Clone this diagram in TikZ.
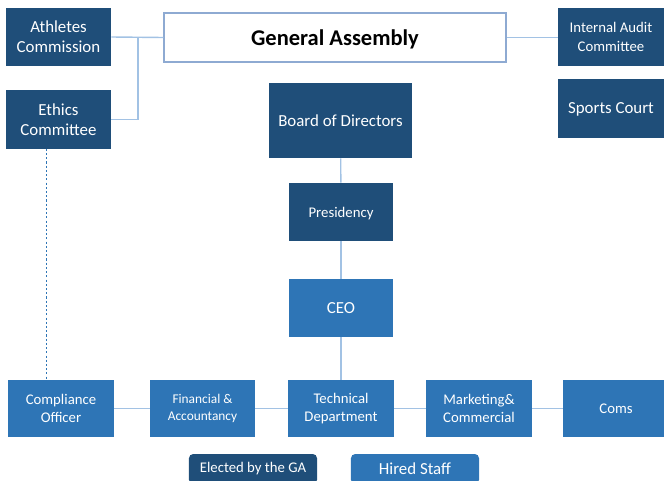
\documentclass[tikz,border=0pt]{standalone}
\usepackage{fontspec}
\setmainfont{Carlito}
\definecolor{gadark}{HTML}{1F4E79}
\definecolor{staffblue}{HTML}{2E75B6}
\definecolor{linkblue}{HTML}{A2C2E4}
\definecolor{gaframe}{HTML}{8EAAD2}
\tikzset{
    elected/.style={fill=gadark, text=white, align=center, inner sep=0pt, minimum width=2.63cm, minimum height=1.45cm},
    hired/.style={fill=staffblue, text=white, align=center, inner sep=0pt, minimum width=2.63cm, minimum height=1.43cm},
    link/.style={draw=linkblue, line width=1pt},
}

\begin{document}
\begin{tikzpicture}[x=0.025cm, y=-0.025cm]
    \clip (0,0) rectangle (664,480);

    \node[draw=gaframe, line width=0.8pt, fill=white, minimum width=8.55cm, minimum height=1.225cm, text depth=0pt, font=\fontsize{16}{18}\selectfont\bfseries] (ga) at (335,37.5) {General Assembly};
    \node[elected, font=\fontsize{12}{14.5}\selectfont] (athletes) at (58.5,37) {Athletes\\Commission};
    \node[elected, font=\fontsize{12}{14.5}\selectfont] (ethics) at (58.5,119.5) {Ethics\\Committee};
    \node[elected, font=\fontsize{10.5}{13}\selectfont] (audit) at (611,37) {Internal Audit\\Committee};
    \node[elected, text depth=0pt, font=\fontsize{12}{14.5}\selectfont] (court) at (611,108.5) {Sports Court};

    \node[elected, minimum width=3.575cm, minimum height=1.875cm, font=\fontsize{12}{14.5}\selectfont] (board) at (340.5,120.5) {Board of Directors};
    \node[elected, minimum width=2.6cm, text depth=0pt, font=\fontsize{10.5}{13}\selectfont] (presidency) at (341,212) {Presidency};
    \node[hired, minimum width=2.6cm, minimum height=1.45cm, font=\fontsize{12}{14.5}\selectfont] (ceo) at (341,308) {CEO};

    \node[hired, font=\fontsize{10.5}{13}\selectfont] (compliance) at (61,408.5) {Compliance\\Officer};
    \node[hired, font=\fontsize{9.5}{12}\selectfont] (finance) at (202.5,408.5) {Financial \&\\Accountancy};
    \node[hired, font=\fontsize{10.5}{13}\selectfont] (technical) at (341,408.5) {Technical\\Department};
    \node[hired, font=\fontsize{10.5}{13}\selectfont] (marketing) at (479,408.5) {Marketing\&\\Commercial};
    \node[hired, font=\fontsize{10.5}{13}\selectfont] (coms) at (616,408.5) {Coms};

    \node[elected, rounded corners=3pt, minimum width=3.2cm, minimum height=0.75cm, font=\fontsize{10.5}{13}\selectfont] (legendga) at (253,469) {Elected by the GA};
    \node[hired, rounded corners=3pt, minimum width=3.2cm, minimum height=0.75cm, font=\fontsize{12}{14.5}\selectfont] (legendstaff) at (415,469) {Hired Staff};

    \coordinate (tie) at (138,37);
    \coordinate (drop) at (46.5,0);

    \draw[link] (athletes.east) -- (ga.west);
    \draw[link] (ethics.east) -| (tie);
    \draw[link] (ga.east) -- (ga.east -| audit.west);
    \draw[link] (board) -- (presidency);
    \draw[link] (presidency) -- (ceo);
    \draw[link] (ceo) -- (technical);
    \draw[link] (compliance) -- (finance);
    \draw[link] (finance) -- (technical);
    \draw[link] (technical) -- (marketing);
    \draw[link] (marketing) -- (coms);
    \draw[staffblue, line width=0.8pt, dash pattern=on 1.5pt off 1.5pt] (ethics.south -| drop) -- (compliance.north -| drop);

\end{tikzpicture}
\end{document}
